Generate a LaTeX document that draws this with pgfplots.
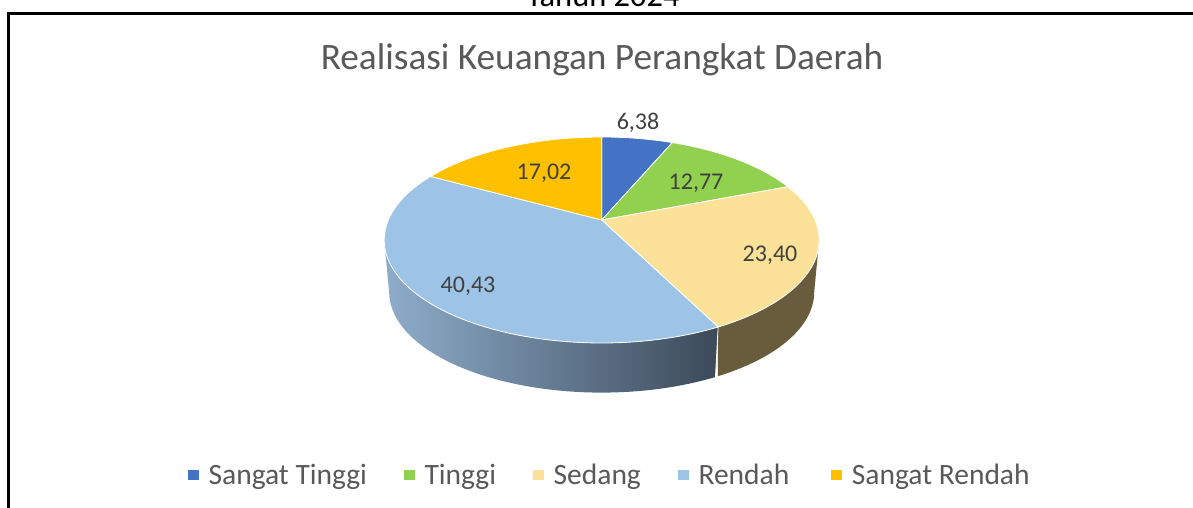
\documentclass[border=0pt]{standalone}
\usepackage{pgfplots}
\usepackage{pgfplotstable}
\pgfplotsset{compat=1.18}
\usepackage{fontspec}
\setmainfont{Carlito}
\definecolor{cA}{HTML}{4472C4}
\definecolor{cB}{HTML}{92D050}
\definecolor{cC}{HTML}{FBE298}
\definecolor{cD}{HTML}{9DC3E6}
\definecolor{cE}{HTML}{FFC000}
\definecolor{sideC}{HTML}{695C3D}
\definecolor{sideL}{HTML}{8EADCB}
\definecolor{sideR}{HTML}{3C4A5A}
\definecolor{txt}{HTML}{595959}
\definecolor{lab}{HTML}{404040}
\pgfplotstableread{
idx value
0 6.38
1 12.77
2 23.40
3 40.43
4 17.02
}\pietable
\newcommand\getv[2]{\pgfplotstablegetelem{#1}{value}\of\pietable\let#2\pgfplotsretval}
\newcommand\fs[1]{\fontsize{#1pt}{#1pt}\selectfont}
\begin{document}
\begin{tikzpicture}
\useasboundingbox (0,0) rectangle (1193pt,508pt);
\getv{0}{\vA}\getv{1}{\vB}\getv{2}{\vC}\getv{3}{\vD}\getv{4}{\vE}
\pgfmathsetmacro\aA{0}
\pgfmathsetmacro\aB{\aA+3.6*\vA}
\pgfmathsetmacro\aC{\aB+3.6*\vB}
\pgfmathsetmacro\aD{\aC+3.6*\vC}
\pgfmathsetmacro\aE{\aD+3.6*\vD}
\pgfmathsetmacro\aF{\aE+3.6*\vE}
\begin{axis}[
  at={(0,0)},anchor=south west,scale only axis,
  width=1193pt,height=508pt,
  xmin=0,xmax=1193,ymin=0,ymax=508,y dir=reverse,
  hide axis,clip=false,
  declare function={
    kk=0.194;
    pu(\t)=sin(\t)*sqrt(1-kk*kk)/(1+kk*cos(\t));
    pv(\t)=(cos(\t)+kk)/(1+kk*cos(\t));
    tx(\t)=601.7+217.5*pu(\t);
    ty(\t)=240-103*pv(\t);
    bx(\t)=601.7+212.5*pu(\t);
    by(\t)=292-100.6*pv(\t);
  },
  every axis plot/.append style={no markers},
  legend columns=5,
  legend style={draw=none,fill=none,at={(axis cs:188,475)},anchor=west,
    font=\fs{29.5}\color{txt},inner sep=0pt,outer sep=0pt,
    /tikz/every odd column/.append style={column sep=10pt},
    /tikz/every even column/.append style={column sep=37pt},
    nodes={inner sep=0pt}},
  legend cell align=left,
  legend image code/.code={\fill[#1,draw=none] (0pt,-5.3pt) rectangle (10.6pt,5.3pt);},
]
% side walls
\addplot[forget plot,fill=sideC,draw=none,variable=\t,domain=101.2:2*\aD-101.2,samples=161]
  ({\t<=\aD ? tx(\t) : bx(2*\aD-\t)},{\t<=\aD ? ty(\t) : by(2*\aD-\t)}) -- cycle;
\addplot[forget plot,left color=sideL,right color=sideR,draw=none,variable=\t,domain=\aD:2*258.8-\aD,samples=201]
  ({\t<=258.8 ? tx(\t) : bx(2*258.8-\t)},{\t<=258.8 ? ty(\t) : by(2*258.8-\t)}) -- cycle;
\addplot[forget plot,draw=white,line width=0.8pt,variable=\t,samples at={0,1}] ({\t<0.5 ? tx(\aD) : bx(\aD)},{\t<0.5 ? ty(\aD) : by(\aD)});
% top face
\addplot[fill=cA,draw=white,line width=0.8pt,line join=round,variable=\t,domain=\aA:\aB,samples=30] ({tx(\t)},{ty(\t)}) -- (axis cs:601.7,220) -- cycle;
\addlegendentry{Sangat Tinggi}
\addplot[fill=cB,draw=white,line width=0.8pt,line join=round,variable=\t,domain=\aB:\aC,samples=40] ({tx(\t)},{ty(\t)}) -- (axis cs:601.7,220) -- cycle;
\addlegendentry{Tinggi}
\addplot[fill=cC,draw=white,line width=0.8pt,line join=round,variable=\t,domain=\aC:\aD,samples=60] ({tx(\t)},{ty(\t)}) -- (axis cs:601.7,220) -- cycle;
\addlegendentry{Sedang}
\addplot[fill=cD,draw=white,line width=0.8pt,line join=round,variable=\t,domain=\aD:\aE,samples=100] ({tx(\t)},{ty(\t)}) -- (axis cs:601.7,220) -- cycle;
\addlegendentry{Rendah\hbox to 5pt{\hfil}}
\addplot[fill=cE,draw=white,line width=0.8pt,line join=round,variable=\t,domain=\aE:\aF,samples=40] ({tx(\t)},{ty(\t)}) -- (axis cs:601.7,220) -- cycle;
\addlegendentry{Sangat Rendah}
% frame
\draw[black,line width=3.5pt] (axis cs:8.4,508) -- (axis cs:8.4,13.7) -- (axis cs:1193,13.7);
% texts
\node[anchor=base,inner sep=0pt,black] at (axis cs:603,7) {\fs{32.5}Tahun 2024};
\node[anchor=base,inner sep=0pt,txt] at (axis cs:602,70) {\fs{37.3}Realisasi Keuangan Perangkat Daerah};
\node[lab,inner sep=0pt] at (axis cs:638,123) {\fs{24}6,38};
\node[lab,inner sep=0pt] at (axis cs:696,183) {\fs{24}12,77};
\node[lab,inner sep=0pt] at (axis cs:770,255) {\fs{24}23,40};
\node[lab,inner sep=0pt] at (axis cs:468,286) {\fs{24}40,43};
\node[lab,inner sep=0pt] at (axis cs:544,173) {\fs{24}17,02};
\end{axis}
\end{tikzpicture}
\end{document}
